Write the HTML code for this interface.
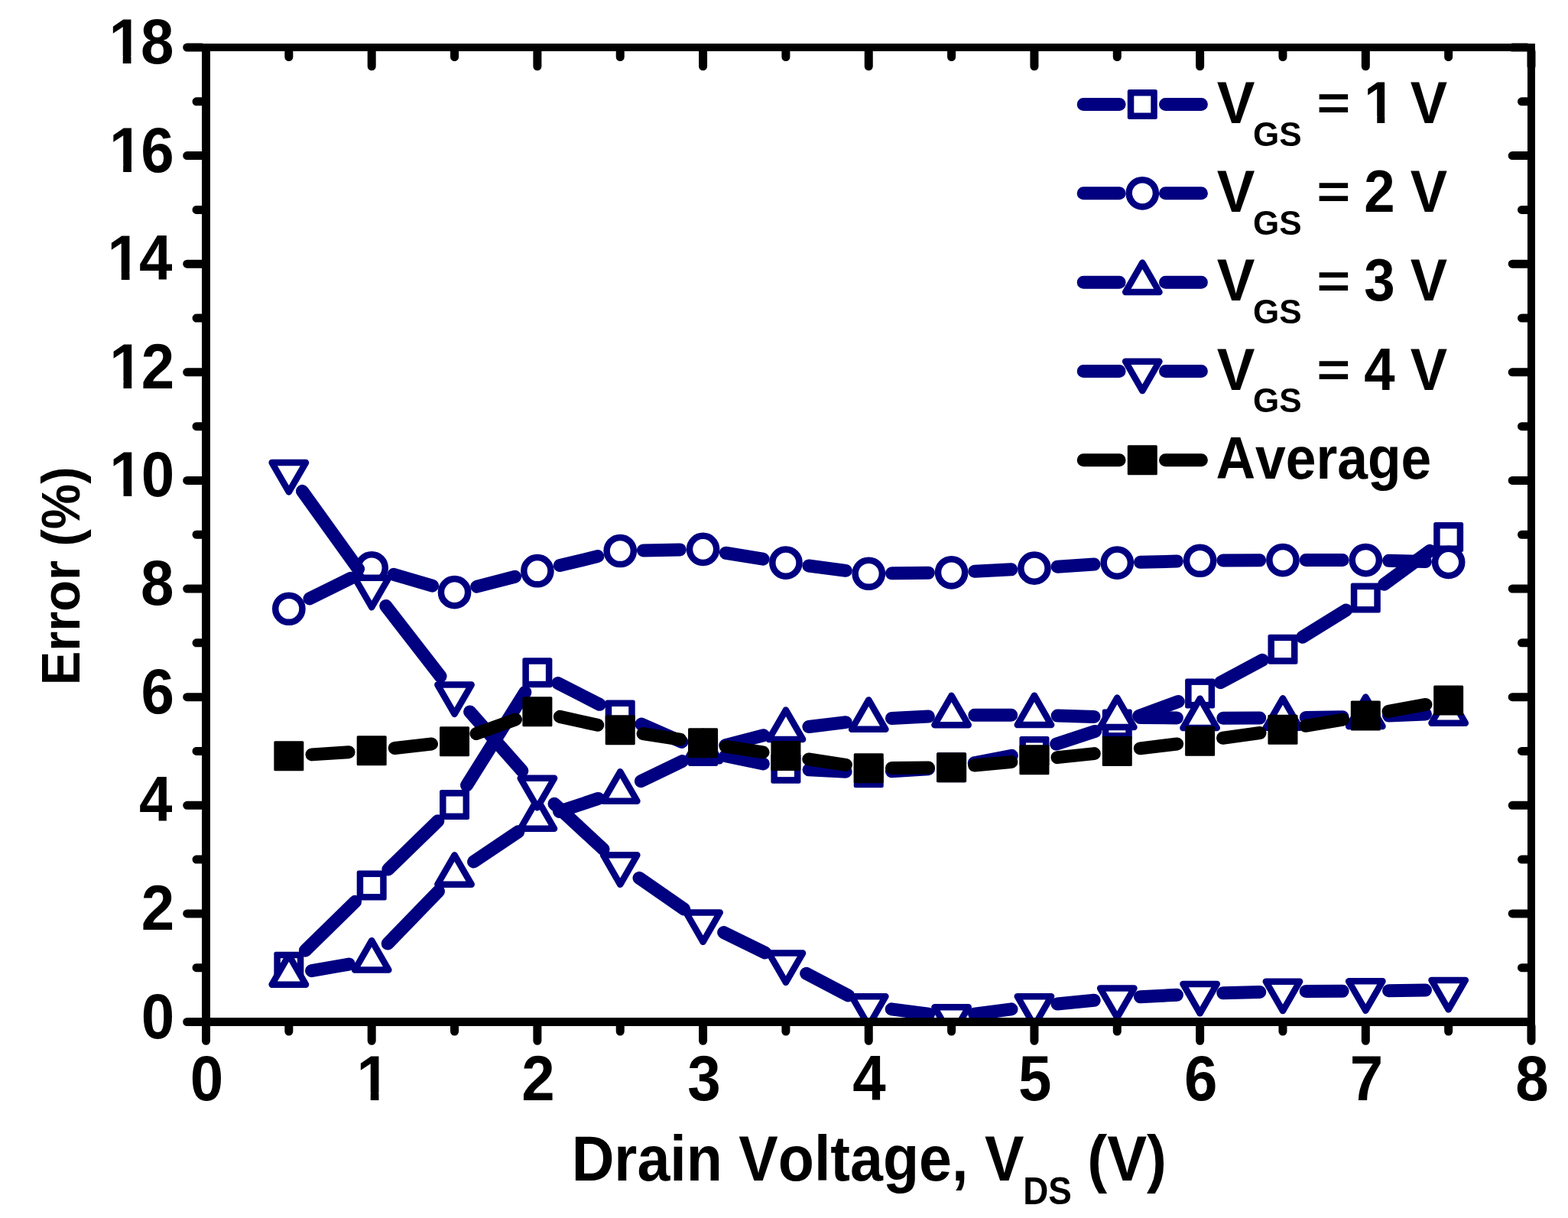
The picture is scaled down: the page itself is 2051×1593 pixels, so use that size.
<!DOCTYPE html><html><head><meta charset="utf-8"><style>html,body{margin:0;padding:0;background:#fff;overflow:hidden;}svg{display:block;}text{font-kerning:none;}</style></head><body><svg width="2051" height="1593" viewBox="0 0 2051 1593"><defs><clipPath id="pc"><rect x="269.5" y="62" width="1733.5" height="1274.5"/></clipPath></defs><g clip-path="url(#pc)"><path d="M399.41 1243.14L464.62 1179.21M507.82 1137L572.89 1073.64M610.58 1026.98L686.83 905.39M729.78 893.52L784.31 921.32M838.88 947.15L891.9 970.36M949.12 988.65L998.35 998.95M1058.07 1006.71L1106.09 1009.22M1166.39 1008.82L1214.46 1005.68M1274.23 997.9L1323.3 988.28M1381.64 973.09L1432.57 956.45M1489.6 936.58L1541.31 917.42M1596.27 892.71L1651.32 863.36M1703.65 833.25L1760.63 797.99M1810.64 764.2L1870.32 720.33" stroke="#000080" stroke-width="17.0" stroke-linecap="round" fill="none"/><rect x="358.34" y="1244.78" width="39" height="39" rx="2.5" fill="#000080"/><rect x="366.84" y="1253.28" width="22" height="22" fill="#fff"/><rect x="466.69" y="1138.57" width="39" height="39" rx="2.5" fill="#000080"/><rect x="475.19" y="1147.07" width="22" height="22" fill="#fff"/><rect x="575.03" y="1033.07" width="39" height="39" rx="2.5" fill="#000080"/><rect x="583.53" y="1041.57" width="22" height="22" fill="#fff"/><rect x="683.38" y="860.3" width="39" height="39" rx="2.5" fill="#000080"/><rect x="691.88" y="868.8" width="22" height="22" fill="#fff"/><rect x="791.72" y="915.53" width="39" height="39" rx="2.5" fill="#000080"/><rect x="800.22" y="924.03" width="22" height="22" fill="#fff"/><rect x="900.06" y="962.97" width="39" height="39" rx="2.5" fill="#000080"/><rect x="908.56" y="971.47" width="22" height="22" fill="#fff"/><rect x="1008.41" y="985.63" width="39" height="39" rx="2.5" fill="#000080"/><rect x="1016.91" y="994.13" width="22" height="22" fill="#fff"/><rect x="1116.75" y="991.29" width="39" height="39" rx="2.5" fill="#000080"/><rect x="1125.25" y="999.79" width="22" height="22" fill="#fff"/><rect x="1225.09" y="984.21" width="39" height="39" rx="2.5" fill="#000080"/><rect x="1233.59" y="992.71" width="22" height="22" fill="#fff"/><rect x="1333.44" y="962.97" width="39" height="39" rx="2.5" fill="#000080"/><rect x="1341.94" y="971.47" width="22" height="22" fill="#fff"/><rect x="1441.78" y="927.57" width="39" height="39" rx="2.5" fill="#000080"/><rect x="1450.28" y="936.07" width="22" height="22" fill="#fff"/><rect x="1550.12" y="887.42" width="39" height="39" rx="2.5" fill="#000080"/><rect x="1558.62" y="895.92" width="22" height="22" fill="#fff"/><rect x="1658.47" y="829.65" width="39" height="39" rx="2.5" fill="#000080"/><rect x="1666.97" y="838.15" width="22" height="22" fill="#fff"/><rect x="1766.81" y="762.59" width="39" height="39" rx="2.5" fill="#000080"/><rect x="1775.31" y="771.09" width="22" height="22" fill="#fff"/><rect x="1875.16" y="682.94" width="39" height="39" rx="2.5" fill="#000080"/><rect x="1883.66" y="691.44" width="22" height="22" fill="#fff"/><path d="M404.93 782.89L459.1 756.16M515.16 751.32L565.56 766.14M623.77 767.11L673.63 754.24M732.23 739.59L781.86 727.59M841.41 719.9L889.37 718.96M949.37 723.24L998.1 731.2M1057.85 739.98L1106.3 746.32M1166.45 749.84L1214.4 749.21M1274.75 747.24L1322.78 744.73M1383.07 741.18L1431.15 738.04M1491.47 735.28L1539.44 734.03M1599.82 733.04L1647.77 732.73M1708.17 732.53L1756.11 732.53M1816.5 733.32L1864.47 734.57" stroke="#000080" stroke-width="17.0" stroke-linecap="round" fill="none"/><circle cx="377.84" cy="796.25" r="17.6" fill="#fff" stroke="#000080" stroke-width="8.5"/><circle cx="486.19" cy="742.8" r="17.6" fill="#fff" stroke="#000080" stroke-width="8.5"/><circle cx="594.53" cy="774.66" r="17.6" fill="#fff" stroke="#000080" stroke-width="8.5"/><circle cx="702.88" cy="746.69" r="17.6" fill="#fff" stroke="#000080" stroke-width="8.5"/><circle cx="811.22" cy="720.49" r="17.6" fill="#fff" stroke="#000080" stroke-width="8.5"/><circle cx="919.56" cy="718.37" r="17.6" fill="#fff" stroke="#000080" stroke-width="8.5"/><circle cx="1027.91" cy="736.07" r="17.6" fill="#fff" stroke="#000080" stroke-width="8.5"/><circle cx="1136.25" cy="750.23" r="17.6" fill="#fff" stroke="#000080" stroke-width="8.5"/><circle cx="1244.59" cy="748.81" r="17.6" fill="#fff" stroke="#000080" stroke-width="8.5"/><circle cx="1352.94" cy="743.15" r="17.6" fill="#fff" stroke="#000080" stroke-width="8.5"/><circle cx="1461.28" cy="736.07" r="17.6" fill="#fff" stroke="#000080" stroke-width="8.5"/><circle cx="1569.62" cy="733.24" r="17.6" fill="#fff" stroke="#000080" stroke-width="8.5"/><circle cx="1677.97" cy="732.53" r="17.6" fill="#fff" stroke="#000080" stroke-width="8.5"/><circle cx="1786.31" cy="732.53" r="17.6" fill="#fff" stroke="#000080" stroke-width="8.5"/><circle cx="1894.66" cy="735.36" r="17.6" fill="#fff" stroke="#000080" stroke-width="8.5"/><path d="M407.58 1269.65L456.45 1261.03M507.2 1234.09L573.52 1165.6M619.58 1127.04L677.82 1087.84M731.53 1061.43L782.57 1044.42M838.41 1021.72L892.37 995.62M948.78 974.83L998.69 961.79M1057.89 950.53L1106.27 944.68M1166.41 939.47L1214.43 936.96M1274.79 935.35L1322.74 935.28M1383.13 936.07L1431.09 937.39M1491.48 938.51L1539.43 938.98M1599.82 939.18L1647.77 939.03M1708.16 938.43L1756.12 937.65M1816.49 935.97L1864.48 934.09" stroke="#000080" stroke-width="17.0" stroke-linecap="round" fill="none"/><path d="M377.84 1249.3L355.67 1287.7L400.01 1287.7Z" fill="#fff" stroke="#000080" stroke-width="8.5" stroke-linejoin="round"/><path d="M486.19 1230.18L464.02 1268.58L508.36 1268.58Z" fill="#fff" stroke="#000080" stroke-width="8.5" stroke-linejoin="round"/><path d="M594.53 1118.31L572.36 1156.71L616.7 1156.71Z" fill="#fff" stroke="#000080" stroke-width="8.5" stroke-linejoin="round"/><path d="M702.88 1045.38L680.7 1083.78L725.05 1083.78Z" fill="#fff" stroke="#000080" stroke-width="8.5" stroke-linejoin="round"/><path d="M811.22 1009.27L789.05 1047.67L833.39 1047.67Z" fill="#fff" stroke="#000080" stroke-width="8.5" stroke-linejoin="round"/><path d="M919.56 956.87L897.39 995.27L941.73 995.27Z" fill="#fff" stroke="#000080" stroke-width="8.5" stroke-linejoin="round"/><path d="M1027.91 928.55L1005.74 966.95L1050.08 966.95Z" fill="#fff" stroke="#000080" stroke-width="8.5" stroke-linejoin="round"/><path d="M1136.25 915.45L1114.08 953.85L1158.42 953.85Z" fill="#fff" stroke="#000080" stroke-width="8.5" stroke-linejoin="round"/><path d="M1244.59 909.79L1222.42 948.19L1266.76 948.19Z" fill="#fff" stroke="#000080" stroke-width="8.5" stroke-linejoin="round"/><path d="M1352.94 909.64L1330.77 948.04L1375.11 948.04Z" fill="#fff" stroke="#000080" stroke-width="8.5" stroke-linejoin="round"/><path d="M1461.28 912.62L1439.11 951.02L1483.45 951.02Z" fill="#fff" stroke="#000080" stroke-width="8.5" stroke-linejoin="round"/><path d="M1569.62 913.68L1547.45 952.08L1591.8 952.08Z" fill="#fff" stroke="#000080" stroke-width="8.5" stroke-linejoin="round"/><path d="M1677.97 913.33L1655.8 951.73L1700.14 951.73Z" fill="#fff" stroke="#000080" stroke-width="8.5" stroke-linejoin="round"/><path d="M1786.31 911.56L1764.14 949.96L1808.48 949.96Z" fill="#fff" stroke="#000080" stroke-width="8.5" stroke-linejoin="round"/><path d="M1894.66 907.31L1872.49 945.71L1916.83 945.71Z" fill="#fff" stroke="#000080" stroke-width="8.5" stroke-linejoin="round"/><path d="M395.46 642.35L468.57 744.11M504.7 792.5L576.02 884.47M614.56 930.94L682.85 1008.02M725.01 1051.16L789.08 1110.62M836.04 1148.36L894.74 1189.02M946.68 1219.51L1000.79 1246.03M1054.67 1273.31L1109.49 1301.97M1166.2 1319.88L1214.65 1326.21M1274.54 1326.21L1322.99 1319.88M1382.99 1313.02L1431.23 1308.29M1491.44 1303.77L1539.47 1301.26M1599.81 1298.79L1647.78 1297.38M1708.17 1296.4L1756.11 1296.24M1816.51 1295.75L1864.46 1295.12" stroke="#000080" stroke-width="17.0" stroke-linecap="round" fill="none"/><path d="M377.84 643.42L355.67 605.02L400.01 605.02Z" fill="#fff" stroke="#000080" stroke-width="8.5" stroke-linejoin="round"/><path d="M486.19 794.24L464.02 755.84L508.36 755.84Z" fill="#fff" stroke="#000080" stroke-width="8.5" stroke-linejoin="round"/><path d="M594.53 933.94L572.36 895.54L616.7 895.54Z" fill="#fff" stroke="#000080" stroke-width="8.5" stroke-linejoin="round"/><path d="M702.88 1056.22L680.7 1017.82L725.05 1017.82Z" fill="#fff" stroke="#000080" stroke-width="8.5" stroke-linejoin="round"/><path d="M811.22 1156.76L789.05 1118.36L833.39 1118.36Z" fill="#fff" stroke="#000080" stroke-width="8.5" stroke-linejoin="round"/><path d="M919.56 1231.82L897.39 1193.42L941.73 1193.42Z" fill="#fff" stroke="#000080" stroke-width="8.5" stroke-linejoin="round"/><path d="M1027.91 1284.92L1005.74 1246.52L1050.08 1246.52Z" fill="#fff" stroke="#000080" stroke-width="8.5" stroke-linejoin="round"/><path d="M1136.25 1341.57L1114.08 1303.17L1158.42 1303.17Z" fill="#fff" stroke="#000080" stroke-width="8.5" stroke-linejoin="round"/><path d="M1244.59 1355.73L1222.42 1317.33L1266.76 1317.33Z" fill="#fff" stroke="#000080" stroke-width="8.5" stroke-linejoin="round"/><path d="M1352.94 1341.57L1330.77 1303.17L1375.11 1303.17Z" fill="#fff" stroke="#000080" stroke-width="8.5" stroke-linejoin="round"/><path d="M1461.28 1330.95L1439.11 1292.55L1483.45 1292.55Z" fill="#fff" stroke="#000080" stroke-width="8.5" stroke-linejoin="round"/><path d="M1569.62 1325.28L1547.45 1286.88L1591.8 1286.88Z" fill="#fff" stroke="#000080" stroke-width="8.5" stroke-linejoin="round"/><path d="M1677.97 1322.09L1655.8 1283.69L1700.14 1283.69Z" fill="#fff" stroke="#000080" stroke-width="8.5" stroke-linejoin="round"/><path d="M1786.31 1321.74L1764.14 1283.34L1808.48 1283.34Z" fill="#fff" stroke="#000080" stroke-width="8.5" stroke-linejoin="round"/><path d="M1894.66 1320.32L1872.49 1281.92L1916.83 1281.92Z" fill="#fff" stroke="#000080" stroke-width="8.5" stroke-linejoin="round"/><path d="M407.98 986.88L456.05 983.73M516.2 978.43L564.52 973.06M622.95 959.51L674.46 941M732.36 937.33L781.74 948.31M841.05 959.54L889.73 967.17M949.41 976.44L998.06 983.91M1057.77 992.98L1106.39 1000.29M1166.45 1004.48L1214.4 1004.01M1274.67 1000.96L1322.86 996.55M1382.97 990.66L1431.25 985.61M1491.26 978.85L1539.64 973M1599.54 965.23L1648.05 958.51M1707.74 949.3L1756.54 941.01M1816.01 930.46L1864.96 921.41" stroke="#000" stroke-width="17.0" stroke-linecap="round" fill="none"/><rect x="358.34" y="969.34" width="39" height="39" rx="1.5" fill="#000"/><rect x="466.69" y="962.26" width="39" height="39" rx="1.5" fill="#000"/><rect x="575.03" y="950.23" width="39" height="39" rx="1.5" fill="#000"/><rect x="683.38" y="911.28" width="39" height="39" rx="1.5" fill="#000"/><rect x="791.72" y="935.36" width="39" height="39" rx="1.5" fill="#000"/><rect x="900.06" y="952.35" width="39" height="39" rx="1.5" fill="#000"/><rect x="1008.41" y="968.99" width="39" height="39" rx="1.5" fill="#000"/><rect x="1116.75" y="985.28" width="39" height="39" rx="1.5" fill="#000"/><rect x="1225.09" y="984.21" width="39" height="39" rx="1.5" fill="#000"/><rect x="1333.44" y="974.3" width="39" height="39" rx="1.5" fill="#000"/><rect x="1441.78" y="962.97" width="39" height="39" rx="1.5" fill="#000"/><rect x="1550.12" y="949.87" width="39" height="39" rx="1.5" fill="#000"/><rect x="1658.47" y="934.86" width="39" height="39" rx="1.5" fill="#000"/><rect x="1766.81" y="916.45" width="39" height="39" rx="1.5" fill="#000"/><rect x="1875.16" y="896.41" width="39" height="39" rx="1.5" fill="#000"/></g><g fill="#000"><rect x="264" y="57" width="11" height="1285"/><rect x="1998" y="57" width="10" height="1285"/><rect x="264" y="57" width="1744" height="10"/><rect x="264" y="1331" width="1744" height="11"/></g><path d="M269.5 1342L269.5 1361.3M269.5 67.5L269.5 86.8M486.19 1342L486.19 1361.3M486.19 67.5L486.19 86.8M702.88 1342L702.88 1361.3M702.88 67.5L702.88 86.8M919.56 1342L919.56 1361.3M919.56 67.5L919.56 86.8M1136.25 1342L1136.25 1361.3M1136.25 67.5L1136.25 86.8M1352.94 1342L1352.94 1361.3M1352.94 67.5L1352.94 86.8M1569.62 1342L1569.62 1361.3M1569.62 67.5L1569.62 86.8M1786.31 1342L1786.31 1361.3M1786.31 67.5L1786.31 86.8M2003 1342L2003 1361.3M2003 67.5L2003 86.8M377.84 1342L377.84 1349M377.84 67.5L377.84 74.5M594.53 1342L594.53 1349M594.53 67.5L594.53 74.5M811.22 1342L811.22 1349M811.22 67.5L811.22 74.5M1027.91 1342L1027.91 1349M1027.91 67.5L1027.91 74.5M1244.59 1342L1244.59 1349M1244.59 67.5L1244.59 74.5M1461.28 1342L1461.28 1349M1461.28 67.5L1461.28 74.5M1677.97 1342L1677.97 1349M1677.97 67.5L1677.97 74.5M1894.66 1342L1894.66 1349M1894.66 67.5L1894.66 74.5M264 1336.5L244.7 1336.5M1997.5 1336.5L1978.2 1336.5M264 1194.89L244.7 1194.89M1997.5 1194.89L1978.2 1194.89M264 1053.28L244.7 1053.28M1997.5 1053.28L1978.2 1053.28M264 911.67L244.7 911.67M1997.5 911.67L1978.2 911.67M264 770.06L244.7 770.06M1997.5 770.06L1978.2 770.06M264 628.44L244.7 628.44M1997.5 628.44L1978.2 628.44M264 486.83L244.7 486.83M1997.5 486.83L1978.2 486.83M264 345.22L244.7 345.22M1997.5 345.22L1978.2 345.22M264 203.61L244.7 203.61M1997.5 203.61L1978.2 203.61M264 62L244.7 62M1997.5 62L1978.2 62M264 1265.69L257 1265.69M1997.5 1265.69L1990.5 1265.69M264 1124.08L257 1124.08M1997.5 1124.08L1990.5 1124.08M264 982.47L257 982.47M1997.5 982.47L1990.5 982.47M264 840.86L257 840.86M1997.5 840.86L1990.5 840.86M264 699.25L257 699.25M1997.5 699.25L1990.5 699.25M264 557.64L257 557.64M1997.5 557.64L1990.5 557.64M264 416.03L257 416.03M1997.5 416.03L1990.5 416.03M264 274.42L257 274.42M1997.5 274.42L1990.5 274.42M264 132.81L257 132.81M1997.5 132.81L1990.5 132.81" stroke="#000" stroke-width="11" stroke-linecap="round" fill="none"/><path d="M1417.2 136.5L1464.1 136.5M1524.5 136.5L1571.4 136.5" stroke="#000080" stroke-width="17.0" stroke-linecap="round"/><rect x="1474.8" y="117" width="39" height="39" rx="2.5" fill="#000080"/><rect x="1483.3" y="125.5" width="22" height="22" fill="#fff"/><path d="M1417.2 252.8L1464.1 252.8M1524.5 252.8L1571.4 252.8" stroke="#000080" stroke-width="17.0" stroke-linecap="round"/><circle cx="1494.3" cy="252.8" r="17.6" fill="#fff" stroke="#000080" stroke-width="8.5"/><path d="M1417.2 369.2L1464.1 369.2M1524.5 369.2L1571.4 369.2" stroke="#000080" stroke-width="17.0" stroke-linecap="round"/><path d="M1494.3 343.6L1472.13 382L1516.47 382Z" fill="#fff" stroke="#000080" stroke-width="8.5" stroke-linejoin="round"/><path d="M1417.2 485.5L1464.1 485.5M1524.5 485.5L1571.4 485.5" stroke="#000080" stroke-width="17.0" stroke-linecap="round"/><path d="M1494.3 511.1L1472.13 472.7L1516.47 472.7Z" fill="#fff" stroke="#000080" stroke-width="8.5" stroke-linejoin="round"/><path d="M1417.2 601.8L1464.1 601.8M1524.5 601.8L1571.4 601.8" stroke="#000" stroke-width="17.0" stroke-linecap="round"/><rect x="1474.8" y="582.3" width="39" height="39" rx="1.5" fill="#000"/><text font-family="Liberation Sans, Arial, sans-serif" font-weight="bold" font-size="84" transform="translate(184.76 1357.5) scale(0.9300 1)">0</text><text font-family="Liberation Sans, Arial, sans-serif" font-weight="bold" font-size="84" transform="translate(184.68 1215.89) scale(0.9300 1)">2</text><text font-family="Liberation Sans, Arial, sans-serif" font-weight="bold" font-size="84" transform="translate(181.97 1074.28) scale(0.9300 1)">4</text><text font-family="Liberation Sans, Arial, sans-serif" font-weight="bold" font-size="84" transform="translate(184.38 932.67) scale(0.9300 1)">6</text><text font-family="Liberation Sans, Arial, sans-serif" font-weight="bold" font-size="84" transform="translate(183.96 791.06) scale(0.9300 1)">8</text><text font-family="Liberation Sans, Arial, sans-serif" font-weight="bold" font-size="84" transform="translate(141.31 649.44) scale(0.9300 1)"><tspan dx="2.15">1</tspan><tspan dx="-2.15">0</tspan></text><text font-family="Liberation Sans, Arial, sans-serif" font-weight="bold" font-size="84" transform="translate(141.23 507.83) scale(0.9300 1)"><tspan dx="2.15">1</tspan><tspan dx="-2.15">2</tspan></text><text font-family="Liberation Sans, Arial, sans-serif" font-weight="bold" font-size="84" transform="translate(138.53 366.22) scale(0.9300 1)"><tspan dx="2.15">1</tspan><tspan dx="-2.15">4</tspan></text><text font-family="Liberation Sans, Arial, sans-serif" font-weight="bold" font-size="84" transform="translate(140.93 224.61) scale(0.9300 1)"><tspan dx="2.15">1</tspan><tspan dx="-2.15">6</tspan></text><text font-family="Liberation Sans, Arial, sans-serif" font-weight="bold" font-size="84" transform="translate(140.51 83) scale(0.9300 1)"><tspan dx="2.15">1</tspan><tspan dx="-2.15">8</tspan></text><text font-family="Liberation Sans, Arial, sans-serif" font-weight="bold" font-size="84" transform="translate(248.83 1438.6) scale(0.9300 1)">0</text><text font-family="Liberation Sans, Arial, sans-serif" font-weight="bold" font-size="84" transform="translate(466.5 1438.6) scale(0.9300 1)">1</text><text font-family="Liberation Sans, Arial, sans-serif" font-weight="bold" font-size="84" transform="translate(682.36 1438.6) scale(0.9300 1)">2</text><text font-family="Liberation Sans, Arial, sans-serif" font-weight="bold" font-size="84" transform="translate(899.35 1438.6) scale(0.9300 1)">3</text><text font-family="Liberation Sans, Arial, sans-serif" font-weight="bold" font-size="84" transform="translate(1115.15 1438.6) scale(0.9300 1)">4</text><text font-family="Liberation Sans, Arial, sans-serif" font-weight="bold" font-size="84" transform="translate(1332.1 1438.6) scale(0.9300 1)">5</text><text font-family="Liberation Sans, Arial, sans-serif" font-weight="bold" font-size="84" transform="translate(1548.88 1438.6) scale(0.9300 1)">6</text><text font-family="Liberation Sans, Arial, sans-serif" font-weight="bold" font-size="84" transform="translate(1765.63 1438.6) scale(0.9300 1)">7</text><text font-family="Liberation Sans, Arial, sans-serif" font-weight="bold" font-size="84" transform="translate(1982.24 1438.6) scale(0.9300 1)">8</text><text font-family="Liberation Sans, Arial, sans-serif" font-weight="bold" font-size="83" transform="translate(747.64 1544) scale(0.9299 1)">Drain Voltage, V</text><text font-family="Liberation Sans, Arial, sans-serif" font-weight="bold" font-size="49.3" transform="translate(1338.23 1575) scale(0.9295 1)">DS</text><text font-family="Liberation Sans, Arial, sans-serif" font-weight="bold" font-size="83" transform="translate(1422.22 1544) scale(0.9378 1)">(V)</text><text font-family="Liberation Sans, Arial, sans-serif" font-weight="bold" font-size="69.7" transform="translate(104 896.27) rotate(-90) scale(0.9581 1)">Error (%)</text><text font-family="Liberation Sans, Arial, sans-serif" font-weight="bold" font-size="77" transform="translate(1591.69 160.85) scale(0.9671 1)">V</text><text font-family="Liberation Sans, Arial, sans-serif" font-weight="bold" font-size="45.2" transform="translate(1639.09 190.5) scale(0.9743 1)">GS</text><text font-family="Liberation Sans, Arial, sans-serif" font-weight="bold" font-size="77" transform="translate(1722.4 156.01) scale(0.9712 0.82)">=</text><text font-family="Liberation Sans, Arial, sans-serif" font-weight="bold" font-size="77" transform="translate(1784.34 160.85) scale(0.9427 1)">1 V</text><text font-family="Liberation Sans, Arial, sans-serif" font-weight="bold" font-size="77" transform="translate(1591.69 277.15) scale(0.9671 1)">V</text><text font-family="Liberation Sans, Arial, sans-serif" font-weight="bold" font-size="45.2" transform="translate(1639.09 306.8) scale(0.9743 1)">GS</text><text font-family="Liberation Sans, Arial, sans-serif" font-weight="bold" font-size="77" transform="translate(1722.4 272.31) scale(0.9712 0.82)">=</text><text font-family="Liberation Sans, Arial, sans-serif" font-weight="bold" font-size="77" transform="translate(1784.34 277.15) scale(0.9427 1)">2 V</text><text font-family="Liberation Sans, Arial, sans-serif" font-weight="bold" font-size="77" transform="translate(1591.69 393.45) scale(0.9671 1)">V</text><text font-family="Liberation Sans, Arial, sans-serif" font-weight="bold" font-size="45.2" transform="translate(1639.09 423.1) scale(0.9743 1)">GS</text><text font-family="Liberation Sans, Arial, sans-serif" font-weight="bold" font-size="77" transform="translate(1722.4 388.61) scale(0.9712 0.82)">=</text><text font-family="Liberation Sans, Arial, sans-serif" font-weight="bold" font-size="77" transform="translate(1784.34 393.45) scale(0.9427 1)">3 V</text><text font-family="Liberation Sans, Arial, sans-serif" font-weight="bold" font-size="77" transform="translate(1591.69 509.75) scale(0.9671 1)">V</text><text font-family="Liberation Sans, Arial, sans-serif" font-weight="bold" font-size="45.2" transform="translate(1639.09 539.4) scale(0.9743 1)">GS</text><text font-family="Liberation Sans, Arial, sans-serif" font-weight="bold" font-size="77" transform="translate(1722.4 504.91) scale(0.9712 0.82)">=</text><text font-family="Liberation Sans, Arial, sans-serif" font-weight="bold" font-size="77" transform="translate(1784.34 509.75) scale(0.9427 1)">4 V</text><text font-family="Liberation Sans, Arial, sans-serif" font-weight="bold" font-size="77" transform="translate(1590.42 626) scale(0.9277 1)">Average</text><g fill="#fff"><rect x="147.13" y="639.67" width="14.42" height="11.77"/><rect x="172.26" y="639.67" width="13.39" height="11.77"/><rect x="147.05" y="498.06" width="14.42" height="11.77"/><rect x="172.19" y="498.06" width="13.39" height="11.77"/><rect x="144.34" y="356.45" width="14.42" height="11.77"/><rect x="169.48" y="356.45" width="13.39" height="11.77"/><rect x="146.74" y="214.84" width="14.42" height="11.77"/><rect x="171.88" y="214.84" width="13.39" height="11.77"/><rect x="146.32" y="73.23" width="14.42" height="11.77"/><rect x="171.46" y="73.23" width="13.39" height="11.77"/><rect x="470.32" y="1428.83" width="14.42" height="11.77"/><rect x="495.46" y="1428.83" width="13.39" height="11.77"/><rect x="1787.89" y="151.79" width="13.4" height="11.06"/><rect x="1811.25" y="151.79" width="12.44" height="11.06"/></g></svg></body></html>
